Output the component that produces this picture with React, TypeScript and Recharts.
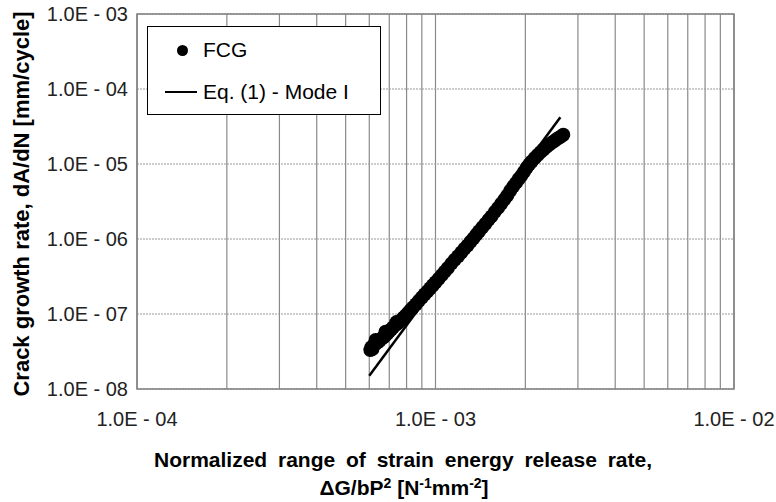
import React from 'react';
import { ScatterChart, Scatter, XAxis, YAxis, CartesianGrid, ReferenceArea, Legend, Label } from 'recharts';

// FCG test points (ΔG/bP² in 1e-4 N^-1 mm^-2, dA/dN in mm/cycle)
const fcgDeltaG = [
  6.05, 6.1, 6.15, 6.2, 6.3, 6.3, 6.4, 6.5, 6.6, 6.7, 6.8, 6.8, 6.9, 7.0, 7.1, 7.2, 7.35, 7.4,
  7.5, 7.65, 7.8, 7.95, 8.1, 8.25, 8.4, 8.6, 8.8, 9.0, 9.2, 9.4, 9.6, 9.8, 10.0, 10.25,
  10.5, 10.75, 11.0, 11.3, 11.6, 11.9, 12.2, 12.5, 12.8, 13.1, 13.4, 13.7, 14.0, 14.35,
  14.7, 15.05, 15.4, 15.8, 16.2, 16.6, 17.0, 17.4, 17.8, 18.2, 18.6, 19.0, 19.4, 19.8,
  20.2, 20.6, 21.0, 21.5, 22.0, 22.5, 23.0, 23.5, 24.0, 24.5, 25.0, 25.5, 26.0, 26.5, 26.8,
];
const fcgRate = [
  3.3e-8, 3.6e-8, 3.4e-8, 3.8e-8, 4.0e-8, 4.5e-8, 4.2e-8, 4.4e-8, 4.7e-8, 4.9e-8, 5.2e-8, 5.8e-8, 5.5e-8, 5.9e-8, 6.2e-8, 6.6e-8, 7.1e-8, 7.8e-8,
  7.6e-8, 8.2e-8, 8.9e-8, 9.6e-8, 1.04e-7, 1.13e-7, 1.22e-7, 1.35e-7, 1.5e-7, 1.66e-7, 1.83e-7, 2.0e-7, 2.2e-7, 2.42e-7, 2.65e-7, 2.95e-7,
  3.3e-7, 3.7e-7, 4.1e-7, 4.7e-7, 5.3e-7, 5.9e-7, 6.6e-7, 7.4e-7, 8.2e-7, 9.2e-7, 1.02e-6, 1.14e-6, 1.27e-6, 1.43e-6,
  1.6e-6, 1.8e-6, 2.0e-6, 2.3e-6, 2.6e-6, 2.95e-6, 3.35e-6, 3.8e-6, 4.4e-6, 5.0e-6, 5.6e-6, 6.3e-6, 7.0e-6, 7.9e-6,
  8.9e-6, 9.9e-6, 1.08e-5, 1.2e-5, 1.32e-5, 1.44e-5, 1.56e-5, 1.68e-5, 1.8e-5, 1.92e-5, 2.03e-5, 2.15e-5, 2.26e-5, 2.37e-5, 2.45e-5,
];

// Eq. (1) - Mode I fit line end points
const eqDeltaG = [6.0, 26.2];
const eqRate = [1.5e-8, 4.2e-5];

const xTicks = [
  0.0001, 0.0002, 0.0003, 0.0004, 0.0005, 0.0006, 0.0007, 0.0008, 0.0009,
  0.001, 0.002, 0.003, 0.004, 0.005, 0.006, 0.007, 0.008, 0.009, 0.01,
];
const xTickLabels = [
  '1.0E - 04', '', '', '', '', '', '', '', '',
  '1.0E - 03', '', '', '', '', '', '', '', '', '1.0E - 02',
];
const yTicks = [1e-8, 1e-7, 1e-6, 1e-5, 1e-4, 1e-3];
const yTickLabels = ['1.0E - 08', '1.0E - 07', '1.0E - 06', '1.0E - 05', '1.0E - 04', '1.0E - 03'];

const fcgData = fcgDeltaG.map((x, i) => ({ x: x * 1e-4, y: fcgRate[i] }));
const eqData = eqDeltaG.map((x, i) => ({ x: x * 1e-4, y: eqRate[i] }));

const FONT = '"Liberation Sans", Arial, sans-serif';

const Dot = (props: any) => <circle cx={props.cx} cy={props.cy} r={7} fill="#000" />;

const LegendBox = () => (
  <div
    style={{
      width: 234, height: 89, boxSizing: 'border-box', border: '1.5px solid #000', background: '#fff',
      fontFamily: FONT, fontSize: 21, color: '#000', position: 'relative', lineHeight: '24px',
    }}
  >
    <div style={{ position: 'absolute', left: 29, top: 11, display: 'flex', alignItems: 'center' }}>
      <span style={{ display: 'inline-block', width: 11, height: 11, borderRadius: 6, background: '#000', marginRight: 15 }} />
      FCG
    </div>
    <div style={{ position: 'absolute', left: 17, top: 53, display: 'flex', alignItems: 'center' }}>
      <span style={{ display: 'inline-block', width: 32, height: 2.5, background: '#000', marginRight: 6 }} />
      Eq. (1) - Mode I
    </div>
  </div>
);

const XTitle = () => (
  <g fontFamily={FONT} fontWeight="bold" fontSize={21} fill="#000" textAnchor="middle">
    <text x={403} y={467} wordSpacing={5}>Normalized range of strain energy release rate,</text>
    <text x={404} y={495}>
      ΔG/bP<tspan fontSize={14} dy={-7}>2</tspan>
      <tspan dy={7}> [N</tspan>
      <tspan fontSize={14} dy={-7}>-1</tspan>
      <tspan dy={7}>mm</tspan>
      <tspan fontSize={14} dy={-7}>-2</tspan>
      <tspan dy={7}>]</tspan>
    </text>
  </g>
);

const YTitle = () => (
  <text
    x={0}
    y={0}
    transform="translate(29, 204) rotate(-90)"
    fontFamily={FONT}
    fontWeight="bold"
    fontSize={22}
    fill="#000"
    textAnchor="middle"
  >
    Crack growth rate, dA/dN [mm/cycle]
  </text>
);

export default function App() {
  return (
    <div style={{ position: 'absolute', left: 0, top: 0, width: 776, height: 502, background: '#fff' }}>
      <ScatterChart width={776} height={502} margin={{ top: 14, right: 42, bottom: 0, left: 0 }}>
        <CartesianGrid horizontal={false} stroke="#8a8a8a" strokeWidth={1.2} />
        <CartesianGrid vertical={false} stroke="#9a9a9a" strokeWidth={1.2} strokeDasharray="2 1" />
        <XAxis
          type="number"
          dataKey="x"
          scale="log"
          domain={[0.0001, 0.01]}
          ticks={xTicks}
          interval={0}
          allowDataOverflow
          tickFormatter={(_v: number, i: number) => xTickLabels[i]}
          tickLine={false}
          tickSize={0}
          tickMargin={23}
          axisLine={false}
          height={113}
          tick={{ fontFamily: FONT, fontSize: 20, fill: '#222' }}
        >
          <Label content={<XTitle />} />
        </XAxis>
        <YAxis
          type="number"
          dataKey="y"
          scale="log"
          domain={[1e-8, 1e-3]}
          ticks={yTicks}
          interval={0}
          allowDataOverflow
          tickFormatter={(_v: number, i: number) => yTickLabels[i]}
          tickLine={false}
          tickSize={0}
          tickMargin={9}
          axisLine={false}
          width={137}
          tick={{ fontFamily: FONT, fontSize: 20, fill: '#222' }}
        >
          <Label content={<YTitle />} />
        </YAxis>
        <ReferenceArea x1={0.0001} x2={0.01} y1={1e-8} y2={1e-3} fill="none" stroke="#808080" strokeWidth={1.5} />
        <Legend
          layout="vertical"
          align="center"
          verticalAlign="middle"
          content={<LegendBox />}
          wrapperStyle={{ left: 147, top: 26, width: 234, height: 89 }}
        />
        <Scatter name="FCG" data={fcgData} fill="#000" shape={<Dot />} isAnimationActive={false} />
        <Scatter
          name="Eq. (1) - Mode I"
          data={eqData}
          fill="#000"
          line={{ stroke: '#000', strokeWidth: 2.5 }}
          shape={() => <g />}
          isAnimationActive={false}
        />
      </ScatterChart>
    </div>
  );
}
